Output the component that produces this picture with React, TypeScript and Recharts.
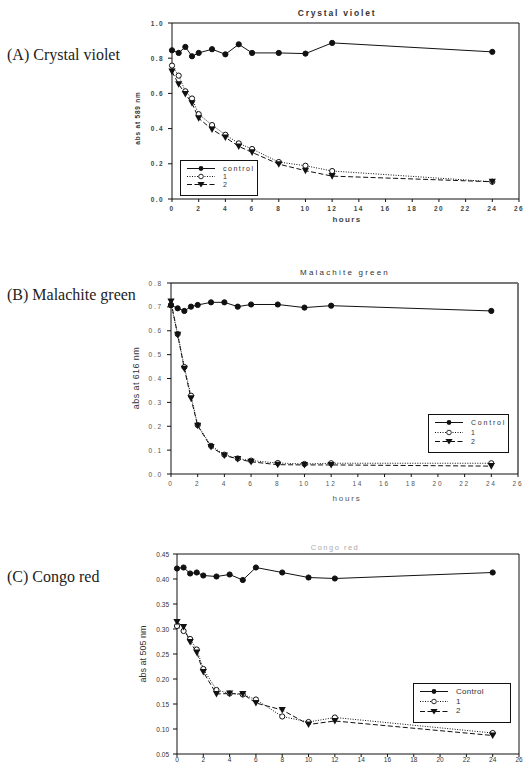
import { LineChart, Line, XAxis, YAxis, Legend, ReferenceLine, Label } from 'recharts'

// time points (hours) shared by all three dyes
const hours = [0, 0.5, 1, 1.5, 2, 3, 4, 5, 6, 8, 10, 12, 24]
const xTicks = [0, 2, 4, 6, 8, 10, 12, 14, 16, 18, 20, 22, 24, 26]

// (A) crystal violet, abs at 589 nm
const cvControl = [0.845, 0.83, 0.864, 0.811, 0.83, 0.851, 0.822, 0.879, 0.83, 0.83, 0.826, 0.887, 0.836]
const cvOne = [0.758, 0.701, 0.612, 0.571, 0.482, 0.42, 0.365, 0.316, 0.284, 0.21, 0.189, 0.159, 0.098]
const cvTwo = [0.724, 0.652, 0.597, 0.544, 0.459, 0.395, 0.35, 0.299, 0.265, 0.198, 0.161, 0.13, 0.098]
const cvTicks = [0, 0.2, 0.4, 0.6, 0.8, 1.0]

// (B) malachite green, abs at 616 nm
const mgControl = [0.707, 0.694, 0.683, 0.701, 0.708, 0.719, 0.719, 0.701, 0.71, 0.71, 0.697, 0.705, 0.683]
const mgOne = [0.708, 0.586, 0.448, 0.328, 0.205, 0.118, 0.081, 0.065, 0.056, 0.046, 0.042, 0.045, 0.045]
const mgTwo = [0.722, 0.583, 0.441, 0.317, 0.202, 0.113, 0.078, 0.063, 0.051, 0.039, 0.038, 0.038, 0.033]
const mgTicks = [0, 0.1, 0.2, 0.3, 0.4, 0.5, 0.6, 0.7, 0.8]

// (C) congo red, abs at 505 nm
const crControl = [0.421, 0.423, 0.411, 0.413, 0.407, 0.405, 0.409, 0.398, 0.423, 0.413, 0.403, 0.401, 0.413]
const crOne = [0.306, 0.296, 0.28, 0.259, 0.22, 0.178, 0.171, 0.169, 0.159, 0.125, 0.114, 0.123, 0.092]
const crTwo = [0.314, 0.304, 0.274, 0.253, 0.214, 0.17, 0.171, 0.17, 0.152, 0.138, 0.109, 0.116, 0.087]
const crTicks = [0.05, 0.1, 0.15, 0.2, 0.25, 0.3, 0.35, 0.4, 0.45]

const namesA = ['control', '1', '2']
const namesBC = ['Control', '1', '2']

const SANS = '"Liberation Sans", Arial, sans-serif'
const SERIF = '"Liberation Serif", "Times New Roman", serif'

function rows(c: number[], a: number[], b: number[]) {
  return hours.map((h, i) => ({ h, control: c[i], s1: a[i], s2: b[i] }))
}

// eslint-disable-next-line @typescript-eslint/no-explicit-any
function Tri(props: any) {
  const { cx, cy, index } = props
  if (cx == null || cy == null) return null
  return <path key={`t${index}`} d={`M${cx - 3.6},${cy - 3} L${cx + 3.6},${cy - 3} L${cx},${cy + 3.6} Z`} fill="#111" />
}

function Sample({ kind }: { kind: number }) {
  const dash = kind === 0 ? undefined : kind === 1 ? '1 1.5' : '5 2.5'
  return (
    <svg width={28} height={7} style={{ display: 'block' }}>
      <line x1={0} y1={3.5} x2={28} y2={3.5} stroke="#111" strokeWidth={1} strokeDasharray={dash} />
      {kind === 0 && <circle cx={14} cy={3.5} r={2.4} fill="#111" />}
      {kind === 1 && <circle cx={14} cy={3.5} r={2.3} fill="#fff" stroke="#111" strokeWidth={0.9} />}
      {kind === 2 && <path d="M10.4,1 L17.6,1 L14,6.5 Z" fill="#111" />}
    </svg>
  )
}

interface Cfg {
  top: number
  height: number
  plotLeft: number
  plotRight: number
  plotTop: number
  plotBottom: number
  yMax: number
  yMin: number
  yTicks: number[]
  digits: number
  title: string
  titleX: number
  titleY: number
  titleStyle: React.CSSProperties
  yLabel: string
  yLabelX: number
  yLabelY: number
  yLabelStyle: React.CSSProperties
  tickStyle: React.CSSProperties
  xTickDy: number
  xLabelY: number | null
  frame: string
  frameWidth: number
  legend: { left: number; top: number; width: number; height: number; row: number; font: number }
  names: string[]
  spacing: number
}

function Panel({ cfg, data }: { cfg: Cfg; data: ReturnType<typeof rows> }) {
  const yW = 40
  const ts = cfg.tickStyle
  return (
    <div style={{ position: 'absolute', left: 0, top: cfg.top, width: 525, height: cfg.height }}>
      <LineChart
        width={525}
        height={cfg.height}
        data={data}
        margin={{ top: cfg.plotTop, right: 525 - cfg.plotRight, bottom: 0, left: cfg.plotLeft - yW }}
      >
        <XAxis
          dataKey="h"
          type="number"
          domain={[0, 26]}
          ticks={xTicks}
          interval={0}
          height={cfg.height - cfg.plotBottom}
          tickSize={3}
          tickMargin={3}
          axisLine={{ stroke: '#111' }}
          tickLine={{ stroke: '#111' }}
          // eslint-disable-next-line @typescript-eslint/no-explicit-any
          tick={(p: any) => (
            <text x={p.x} y={p.y} dy={cfg.xTickDy} textAnchor="middle" style={ts}>{p.payload.value}</text>
          )}
        >
          {cfg.xLabelY !== null && (
            <Label
              content={() => (
                <text x={347} y={cfg.xLabelY as number} textAnchor="middle" style={{ ...ts, fontSize: 8 }}>hours</text>
              )}
            />
          )}
        </XAxis>
        <YAxis
          type="number"
          domain={[cfg.yMin, cfg.yMax]}
          ticks={cfg.yTicks}
          interval={0}
          width={yW}
          tickSize={4}
          tickMargin={4}
          axisLine={{ stroke: '#111' }}
          tickLine={{ stroke: '#111' }}
          // eslint-disable-next-line @typescript-eslint/no-explicit-any
          tick={(p: any) => (
            <text x={p.x} y={p.y} dy={2.5} textAnchor="end" style={ts}>{p.payload.value.toFixed(cfg.digits)}</text>
          )}
        >
          <Label
            content={() => (
              <text
                x={cfg.yLabelX}
                y={cfg.yLabelY}
                transform={`rotate(-90 ${cfg.yLabelX} ${cfg.yLabelY})`}
                textAnchor="middle"
                dominantBaseline="central"
                style={cfg.yLabelStyle}
              >
                {cfg.yLabel}
              </text>
            )}
          />
        </YAxis>
        <ReferenceLine y={cfg.yMax} stroke={cfg.frame} strokeWidth={cfg.frameWidth} />
        <ReferenceLine x={26} stroke={cfg.frame} strokeWidth={cfg.frameWidth} />
        <Line
          dataKey="s1"
          stroke="#111"
          strokeWidth={1}
          strokeDasharray="1 1.5"
          dot={{ r: 2.6, fill: '#fff', stroke: '#111', strokeWidth: 1, strokeDasharray: '' }}
          isAnimationActive={false}
        />
        <Line
          dataKey="s2"
          stroke="#111"
          strokeWidth={1}
          strokeDasharray="5 2.5"
          dot={Tri}
          isAnimationActive={false}
        />
        <Line
          dataKey="control"
          stroke="#111"
          strokeWidth={1}
          dot={{ r: 2.6, fill: '#111', stroke: '#111', strokeWidth: 1 }}
          isAnimationActive={false}
        />
        <Legend
          layout="vertical"
          align="center"
          verticalAlign="middle"
          wrapperStyle={{ left: cfg.legend.left, top: cfg.legend.top, width: cfg.legend.width, height: cfg.legend.height }}
          content={() => (
            <div
              style={{
                boxSizing: 'border-box',
                width: cfg.legend.width,
                height: cfg.legend.height,
                border: '1px solid #111',
                background: '#fff',
                padding: '3px 0 0 6px',
              }}
            >
              {cfg.names.map((n, i) => (
                <div key={n} style={{ display: 'flex', alignItems: 'center', height: cfg.legend.row }}>
                  <Sample kind={i} />
                  <span
                    style={{
                      marginLeft: 8,
                      fontFamily: SANS,
                      fontSize: cfg.legend.font,
                      letterSpacing: cfg.spacing,
                      color: '#333',
                      lineHeight: 1,
                    }}
                  >
                    {n}
                  </span>
                </div>
              ))}
            </div>
          )}
        />
      </LineChart>
      <div
        style={{
          position: 'absolute',
          left: cfg.titleX - 100,
          top: cfg.titleY,
          width: 200,
          textAlign: 'center',
          ...cfg.titleStyle,
        }}
      >
        {cfg.title}
      </div>
    </div>
  )
}

const cfgA: Cfg = {
  top: 0,
  height: 232,
  plotLeft: 172,
  plotRight: 519,
  plotTop: 23,
  plotBottom: 199,
  yMin: 0,
  yMax: 1,
  yTicks: cvTicks,
  digits: 1,
  title: 'Crystal violet',
  titleX: 337,
  titleY: 8,
  titleStyle: { fontFamily: SANS, fontSize: 8.5, fontWeight: 700, letterSpacing: 1.8, color: '#333', lineHeight: '10px' },
  yLabel: 'abs at 589 nm',
  yLabelX: 137,
  yLabelY: 118,
  yLabelStyle: { fontFamily: SANS, fontSize: 6.5, fontWeight: 700, letterSpacing: 0.8, fill: '#333' },
  tickStyle: { fontFamily: SANS, fontSize: 6.5, fontWeight: 700, letterSpacing: 1.4, fill: '#444' },
  xTickDy: 6,
  xLabelY: 222,
  frame: '#111',
  frameWidth: 1,
  legend: { left: 180, top: 160, width: 78, height: 36, row: 8, font: 7 },
  names: namesA,
  spacing: 1.5,
}

const cfgB: Cfg = {
  top: 240,
  height: 266,
  plotLeft: 171,
  plotRight: 518,
  plotTop: 43,
  plotBottom: 234,
  yMin: 0,
  yMax: 0.8,
  yTicks: mgTicks,
  digits: 1,
  title: 'Malachite green',
  titleX: 345,
  titleY: 28,
  titleStyle: { fontFamily: SANS, fontSize: 8, letterSpacing: 2.2, color: '#333', lineHeight: '10px' },
  yLabel: 'abs at 616 nm',
  yLabelX: 136,
  yLabelY: 138,
  yLabelStyle: { fontFamily: SANS, fontSize: 9, letterSpacing: 0.4, fill: '#333' },
  tickStyle: { fontFamily: SANS, fontSize: 6.5, letterSpacing: 1.8, fill: '#555' },
  xTickDy: 6,
  xLabelY: 261,
  frame: '#777',
  frameWidth: 2,
  legend: { left: 428, top: 174, width: 81, height: 39, row: 9.5, font: 7 },
  names: namesBC,
  spacing: 1.8,
}

const cfgC: Cfg = {
  top: 520,
  height: 243,
  plotLeft: 177,
  plotRight: 519,
  plotTop: 34,
  plotBottom: 234,
  yMin: 0.05,
  yMax: 0.45,
  yTicks: crTicks,
  digits: 2,
  title: 'Congo red',
  titleX: 335,
  titleY: 23,
  titleStyle: { fontFamily: SANS, fontSize: 7.5, letterSpacing: 1.5, color: '#aaa', lineHeight: '9px' },
  yLabel: 'abs at 505 nm',
  yLabelX: 143,
  yLabelY: 134,
  yLabelStyle: { fontFamily: SANS, fontSize: 9, fill: '#333' },
  tickStyle: { fontFamily: SANS, fontSize: 6.5, fill: '#333' },
  xTickDy: 2,
  xLabelY: null,
  frame: '#111',
  frameWidth: 1,
  legend: { left: 413, top: 163, width: 98, height: 40, row: 9.8, font: 8 },
  names: namesBC,
  spacing: 0.3,
}

const panelLabel: React.CSSProperties = {
  position: 'absolute',
  left: 7,
  fontFamily: SERIF,
  fontSize: 16,
  color: '#222',
  whiteSpace: 'nowrap',
  lineHeight: '18px',
}

export default function App() {
  return (
    <div style={{ position: 'absolute', left: 0, top: 0, width: 525, height: 763, overflow: 'hidden', background: '#fff' }}>
      <Panel cfg={cfgA} data={rows(cvControl, cvOne, cvTwo)} />
      <Panel cfg={cfgB} data={rows(mgControl, mgOne, mgTwo)} />
      <Panel cfg={cfgC} data={rows(crControl, crOne, crTwo)} />
      <div style={{ ...panelLabel, top: 46 }}>(A) Crystal violet</div>
      <div style={{ ...panelLabel, top: 286 }}>(B) Malachite green</div>
      <div style={{ ...panelLabel, top: 568 }}>(C) Congo red</div>
    </div>
  )
}
